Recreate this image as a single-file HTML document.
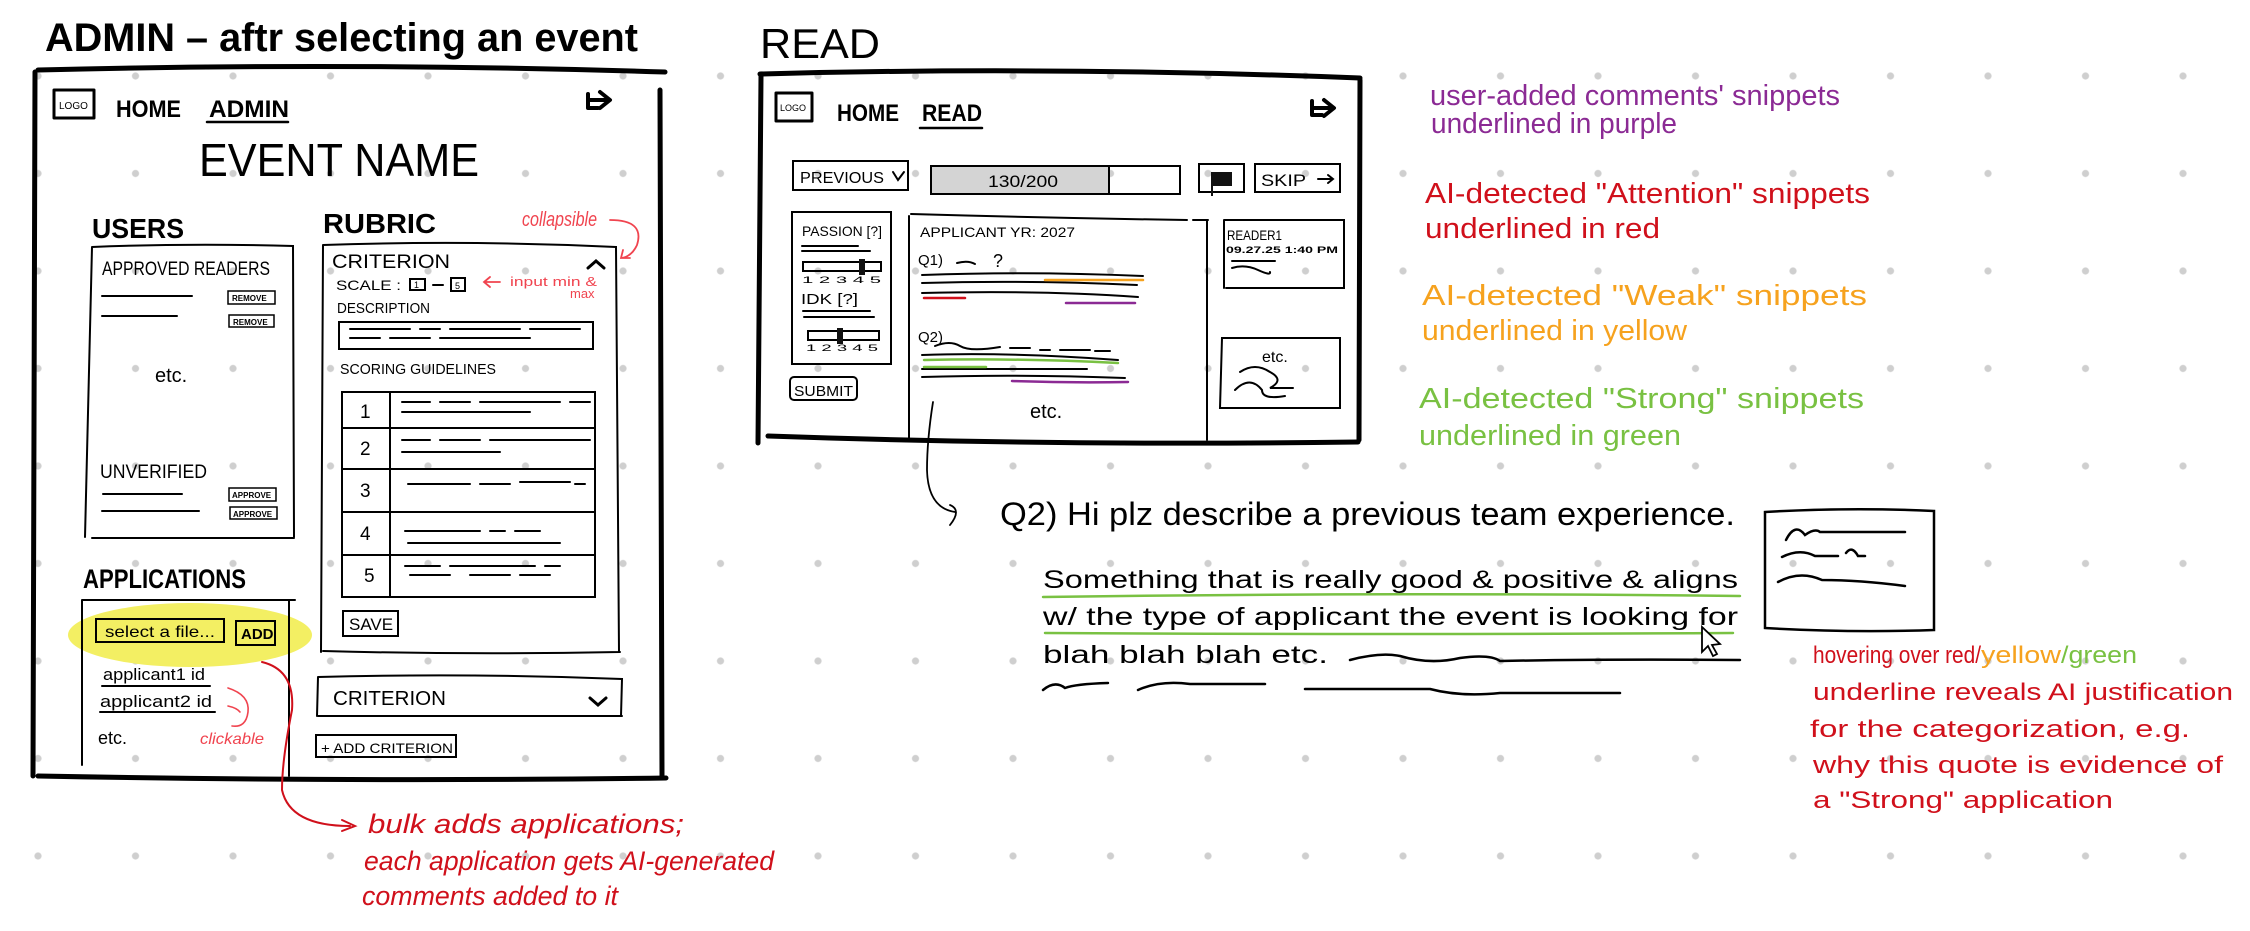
<!DOCTYPE html>
<html><head><meta charset="utf-8"><style>
html,body{margin:0;padding:0;background:#fff;}
svg{display:block;}
text{font-family:"Liberation Sans",sans-serif;}
</style></head><body>
<svg width="2250" height="931" viewBox="0 0 2250 931" xmlns="http://www.w3.org/2000/svg">
<defs>
<pattern id="dots" x="-10.75" y="27.25" width="97.5" height="97.5" patternUnits="userSpaceOnUse">
<circle cx="48.75" cy="48.75" r="3.6" fill="#cfcfcf"/>
</pattern>
</defs>
<rect width="2250" height="931" fill="#fff"/>
<rect width="2250" height="931" fill="url(#dots)"/>

<!-- ============ ADMIN ============ -->
<text x="45" y="51" font-size="40" textLength="593" lengthAdjust="spacingAndGlyphs" font-weight="bold">ADMIN – aftr selecting an event</text>
<g fill="none" stroke="#000" stroke-linecap="round" stroke-linejoin="round">
<path d="M38 70 Q350 62 665 72" stroke-width="5"/>
<path d="M35 72 L33 776" stroke-width="5"/>
<path d="M660 90 L662 776" stroke-width="5"/>
<path d="M38 776 Q350 782 666 778" stroke-width="5"/>
<rect x="54" y="90" width="40" height="28" stroke-width="3"/>
<path d="M588 100 h20 M600 92 l10 8 l-10 8 M588 94 v14 h10" stroke-width="4"/>
<path d="M207 122 H288" stroke-width="2.5"/>
</g>
<text x="59" y="109" font-size="10">LOGO</text>
<text x="116" y="117" font-size="24" font-weight="bold" textLength="65" lengthAdjust="spacingAndGlyphs">HOME</text>
<text x="209" y="117" font-size="24" font-weight="bold" textLength="80" lengthAdjust="spacingAndGlyphs">ADMIN</text>
<text x="199" y="176" font-size="46" textLength="280" lengthAdjust="spacingAndGlyphs">EVENT  NAME</text>

<!-- users -->
<text x="92" y="238" font-size="28" font-weight="bold" textLength="92" lengthAdjust="spacingAndGlyphs">USERS</text>
<g fill="none" stroke="#000" stroke-width="2" stroke-linecap="round">
<path d="M92 247 Q190 243 293 246 L294 537 M92 247 L85 537 M92 538 H294"/>
<path d="M102 296 H192 M102 316 H177 M103 494 H182 M102 511 H199"/>
<rect x="228" y="291" width="47" height="13" stroke-width="1.5"/>
<rect x="229" y="315" width="45" height="12" stroke-width="1.5"/>
<rect x="229" y="488" width="47" height="13" stroke-width="1.5"/>
<rect x="230" y="507" width="47" height="12" stroke-width="1.5"/>
</g>
<text x="102" y="275" font-size="19" textLength="168" lengthAdjust="spacingAndGlyphs">APPROVED READERS</text>
<text x="232" y="301" font-size="8" font-weight="bold">REMOVE</text>
<text x="233" y="325" font-size="8" font-weight="bold">REMOVE</text>
<text x="232" y="498" font-size="8" font-weight="bold">APPROVE</text>
<text x="233" y="517" font-size="8" font-weight="bold">APPROVE</text>
<text x="155" y="382" font-size="20">etc.</text>
<text x="100" y="478" font-size="19" textLength="107" lengthAdjust="spacingAndGlyphs">UNVERIFIED</text>

<!-- applications -->
<text x="83" y="588" font-size="27" font-weight="bold" textLength="163" lengthAdjust="spacingAndGlyphs">APPLICATIONS</text>
<ellipse cx="190" cy="635" rx="122" ry="32" fill="#f3ef63"/>
<g fill="none" stroke="#000" stroke-width="2" stroke-linecap="round">
<path d="M82 600 H295 M82 600 V765 M289 600 V776"/>
<rect x="96" y="619" width="128" height="23"/>
<rect x="236" y="621" width="39" height="24"/>
<path d="M102 686 H210 M100 712 H215"/>
</g>
<text x="105" y="637" font-size="16" textLength="110" lengthAdjust="spacingAndGlyphs">select a file...</text>
<text x="241" y="639" font-size="15" font-weight="bold">ADD</text>
<text x="103" y="680" font-size="17" textLength="102" lengthAdjust="spacingAndGlyphs">applicant1 id</text>
<text x="100" y="707" font-size="17" textLength="112" lengthAdjust="spacingAndGlyphs">applicant2 id</text>
<text x="98" y="744" font-size="18">etc.</text>
<text x="200" y="744" font-size="16" fill="#f0444f" font-style="italic" textLength="64" lengthAdjust="spacingAndGlyphs">clickable</text>
<g fill="none" stroke="#f0444f" stroke-width="1.6" stroke-linecap="round">
<path d="M228 688 Q250 695 248 712 Q246 728 232 726 M228 706 Q237 708 240 712"/>
</g>

<!-- rubric -->
<text x="323" y="233" font-size="28" font-weight="bold" textLength="113" lengthAdjust="spacingAndGlyphs">RUBRIC</text>
<text x="522" y="226" font-size="20" fill="#f0444f" font-style="italic" textLength="75" lengthAdjust="spacingAndGlyphs">collapsible</text>
<g fill="none" stroke="#f0444f" stroke-width="1.8" stroke-linecap="round">
<path d="M610 220 Q645 220 637 245 Q632 256 622 258 M623 250 L621 258 L630 258"/>
<path d="M484 282 H500 M490 277 L484 282 L490 287"/>
</g>
<text x="510" y="286" font-size="13" fill="#f0444f" textLength="87" lengthAdjust="spacingAndGlyphs">input min &amp;</text>
<text x="570" y="298" font-size="13" fill="#f0444f">max</text>
<g fill="none" stroke="#000" stroke-width="2" stroke-linecap="round">
<path d="M323 245 Q470 240 616 247 L619 652 M323 245 L321 652 M323 651 Q470 655 620 652"/>
<path d="M588 268 L596 261 L604 268" stroke-width="3"/>
<rect x="410" y="279" width="15" height="11"/>
<path d="M433 285 H443"/>
<rect x="451" y="278" width="14" height="13"/>
<rect x="339" y="322" width="254" height="27"/>
<path d="M350 329 H410 M420 329 H440 M450 329 H520 M530 329 H580 M350 338 H380 M390 338 H430 M440 338 H530"/>
<rect x="342" y="392" width="253" height="205"/>
<path d="M390 392 V597 M342 428 H595 M342 469 H595 M342 512 H595 M342 555 H595"/>
<path d="M402 402 H430 M440 402 H470 M480 402 H560 M570 402 H590 M402 412 H530 M402 440 H430 M440 440 H480 M490 440 H590 M402 452 H500 M408 484 H470 M480 484 H510 M520 482 H570 M575 484 H585 M405 531 H480 M490 531 H505 M515 531 H540 M408 543 H560 M405 566 H440 M450 566 H535 M545 566 H560 M410 575 H450 M470 575 H510 M520 575 H550"/>
<rect x="343" y="611" width="55" height="25"/>
<path d="M318 677 Q470 673 622 679 L621 716 M318 677 L317 716 M318 716 H622"/>
<path d="M590 698 L598 705 L606 698" stroke-width="3"/>
<rect x="316" y="735" width="140" height="22"/>
</g>
<text x="332" y="268" font-size="19" textLength="118" lengthAdjust="spacingAndGlyphs">CRITERION</text>
<text x="336" y="290" font-size="14" textLength="65" lengthAdjust="spacingAndGlyphs">SCALE :</text>
<text x="414" y="288" font-size="9">1</text>
<text x="455" y="289" font-size="9">5</text>
<text x="337" y="313" font-size="15" textLength="93" lengthAdjust="spacingAndGlyphs">DESCRIPTION</text>
<text x="340" y="374" font-size="15" textLength="156" lengthAdjust="spacingAndGlyphs">SCORING GUIDELINES</text>
<text x="360" y="418" font-size="19">1</text>
<text x="360" y="455" font-size="19">2</text>
<text x="360" y="497" font-size="19">3</text>
<text x="360" y="540" font-size="19">4</text>
<text x="364" y="582" font-size="19">5</text>
<text x="349" y="630" font-size="17">SAVE</text>
<text x="333" y="705" font-size="20" textLength="113" lengthAdjust="spacingAndGlyphs">CRITERION</text>
<text x="321" y="753" font-size="14" textLength="132" lengthAdjust="spacingAndGlyphs">+ ADD CRITERION</text>

<!-- bulk arrow -->
<g fill="none" stroke="#d0101b" stroke-width="2" stroke-linecap="round">
<path d="M262 662 Q295 670 292 710 Q282 760 282 790 Q290 826 350 826"/>
<path d="M342 820 L355 826 L342 831"/>
</g>
<g font-size="27" fill="#d0101b" font-style="italic">
<text x="368" y="833" textLength="316" lengthAdjust="spacingAndGlyphs">bulk adds applications;</text>
<text x="364" y="870" textLength="410" lengthAdjust="spacingAndGlyphs">each application gets AI-generated</text>
<text x="362" y="905" textLength="256" lengthAdjust="spacingAndGlyphs">comments added to it</text>
</g>

<!-- ============ READ ============ -->
<text x="760" y="58" font-size="42" textLength="120" lengthAdjust="spacingAndGlyphs">READ</text>
<g fill="none" stroke="#000" stroke-linecap="round" stroke-linejoin="round">
<path d="M760 74 Q1050 66 1360 78" stroke-width="5"/>
<path d="M761 76 L758 443" stroke-width="5"/>
<path d="M1360 80 L1359 440" stroke-width="5"/>
<path d="M768 436 Q1050 446 1358 442" stroke-width="5"/>
<rect x="776" y="93" width="36" height="28" stroke-width="3"/>
<path d="M1312 108 h20 M1324 100 l10 8 l-10 8 M1312 101 v14 h10" stroke-width="4"/>
<path d="M920 128 H982" stroke-width="2.5"/>
</g>
<text x="780" y="111" font-size="9">LOGO</text>
<text x="837" y="121" font-size="24" font-weight="bold" textLength="62" lengthAdjust="spacingAndGlyphs">HOME</text>
<text x="922" y="121" font-size="24" font-weight="bold" textLength="60" lengthAdjust="spacingAndGlyphs">READ</text>

<g fill="none" stroke="#000" stroke-width="2" stroke-linecap="round">
<rect x="793" y="161" width="115" height="29"/>
<path d="M893 172 L898 180 L904 172"/>
<rect x="931" y="166" width="249" height="28"/>
<rect x="1199" y="164" width="45" height="28"/>
<rect x="1255" y="164" width="85" height="28"/>
<path d="M1318 179 H1333 M1328 175 L1333 179 L1328 183"/>
<!-- left panel -->
<path d="M792 212 H891 V364 H792 Z"/>
<path d="M802 246 H858 M802 251 H870 M803 311 H870 M804 317 H874"/>
<rect x="803" y="262" width="78" height="9"/>
<rect x="808" y="331" width="71" height="9"/>
<rect x="790" y="377" width="67" height="23" rx="4"/>
<!-- center panel -->
<path d="M911 214 Q1050 218 1187 220 M1193 220 H1208 M909 216 V440 M1207 220 V440"/>
<path d="M922 275 Q1030 271 1143 276 M922 283 Q1030 280 1137 285 M922 293 Q1040 290 1138 297"/>
<path d="M922 355 Q1010 352 1118 360 M922 369 H1087 M922 377 Q1020 374 1125 378"/>
<path d="M935 346 Q950 340 960 346 T1000 347 M1010 348 H1030 M1040 350 H1050 M1060 350 H1090 M1095 351 H1110"/>
<path d="M957 263 Q968 260 975 264"/>
<!-- right panel -->
<path d="M1224 220 H1344 V288 H1226 M1224 220 V288"/>
<path d="M1232 261 H1275 M1232 268 Q1245 264 1258 270 T1270 272"/>
<path d="M1222 338 H1340 V408 H1220 Z"/>
<path d="M1235 390 Q1250 375 1262 390 Q1262 400 1285 396 M1240 372 Q1255 362 1270 372 Q1285 380 1270 388 H1293"/>
</g>
<rect x="931" y="166" width="178" height="28" fill="#d4d4d4" stroke="#000" stroke-width="2"/>
<rect x="859" y="259" width="6" height="16" fill="#111"/>
<rect x="837" y="328" width="6" height="16" fill="#111"/>
<rect x="1212" y="172" width="20" height="14" fill="#111"/>
<path d="M1212 172 V196" stroke="#111" stroke-width="2"/>
<text x="800" y="183" font-size="16" textLength="84" lengthAdjust="spacingAndGlyphs">PREVIOUS</text>
<text x="988" y="187" font-size="17" textLength="70" lengthAdjust="spacingAndGlyphs">130/200</text>
<text x="1261" y="186" font-size="17" textLength="45" lengthAdjust="spacingAndGlyphs">SKIP</text>
<text x="802" y="236" font-size="14" textLength="80" lengthAdjust="spacingAndGlyphs">PASSION [?]</text>
<text x="802" y="283" font-size="9" textLength="79" lengthAdjust="spacingAndGlyphs">1  2  3  4  5</text>
<text x="801" y="304" font-size="15" textLength="57" lengthAdjust="spacingAndGlyphs">IDK [?]</text>
<text x="806" y="351" font-size="9" textLength="72" lengthAdjust="spacingAndGlyphs">1  2  3  4  5</text>
<text x="794" y="396" font-size="15" textLength="59" lengthAdjust="spacingAndGlyphs">SUBMIT</text>
<text x="920" y="237" font-size="14" textLength="155" lengthAdjust="spacingAndGlyphs">APPLICANT YR: 2027</text>
<text x="918" y="265" font-size="15">Q1)</text>
<text x="993" y="267" font-size="18">?</text>
<text x="918" y="342" font-size="15">Q2)</text>
<text x="1030" y="418" font-size="20">etc.</text>
<text x="1227" y="240" font-size="14" textLength="55" lengthAdjust="spacingAndGlyphs">READER1</text>
<text x="1226" y="253" font-size="9" font-weight="bold" textLength="112" lengthAdjust="spacingAndGlyphs">09.27.25  1:40 PM</text>
<text x="1262" y="362" font-size="16">etc.</text>
<g fill="none" stroke-width="2.5" stroke-linecap="round">
<path d="M1045 280 H1143" stroke="#f6a21e"/>
<path d="M924 298 H965" stroke="#d0101b"/>
<path d="M1066 303 H1135" stroke="#8b2a94"/>
<path d="M924 360 Q1020 358 1118 363" stroke="#79c142"/>
<path d="M924 367 H986" stroke="#79c142"/>
<path d="M1012 381 Q1070 383 1128 382" stroke="#8b2a94"/>
</g>

<!-- arrow to Q2 detail -->
<g fill="none" stroke="#000" stroke-width="1.8" stroke-linecap="round">
<path d="M933 402 Q927 440 927 470 Q928 508 955 512 M950 505 Q962 510 950 525"/>
</g>
<text x="1000" y="525" font-size="32" textLength="735" lengthAdjust="spacingAndGlyphs">Q2) Hi plz describe a previous team experience.</text>
<g font-size="25">
<text x="1043" y="588" textLength="695" lengthAdjust="spacingAndGlyphs">Something that is really good &amp; positive &amp; aligns</text>
<text x="1043" y="625" textLength="695" lengthAdjust="spacingAndGlyphs">w/ the type of applicant the event is looking for</text>
<text x="1043" y="663" textLength="285" lengthAdjust="spacingAndGlyphs">blah blah blah etc.</text>
</g>
<g fill="none" stroke-width="2.5" stroke-linecap="round">
<path d="M1043 597 Q1390 592 1740 596" stroke="#79c142"/>
<path d="M1045 633 Q1390 635 1733 633" stroke="#79c142"/>
<path d="M1350 660 Q1380 652 1400 656 Q1430 665 1460 658 Q1490 654 1500 661 Q1600 659 1740 660" stroke="#000"/>
<path d="M1043 690 Q1055 680 1065 688 Q1075 684 1108 683 M1138 690 Q1160 680 1190 684 H1265 M1305 689 H1430 Q1460 697 1500 693 H1620" stroke="#000"/>
</g>
<path d="M1702 627 L1702 652 L1708 646 L1713 656 L1717 654 L1712 645 L1720 644 Z" fill="#fff" stroke="#000" stroke-width="1.8"/>
<g fill="none" stroke="#000" stroke-width="2.5" stroke-linecap="round">
<path d="M1765 512 Q1850 507 1934 511 V630 Q1850 633 1765 628 Z"/>
<path d="M1786 540 Q1795 522 1805 535 Q1815 528 1820 532 H1905 M1782 557 Q1800 548 1815 556 H1838 M1846 553 Q1852 545 1858 556 H1865 M1778 582 Q1800 570 1822 580 Q1860 580 1905 586"/>
</g>
<g font-size="24" fill="#d0101b">
<text x="1813" y="663" textLength="168" lengthAdjust="spacingAndGlyphs">hovering over red/</text>
<text x="1981" y="663" fill="#f6a21e" textLength="80" lengthAdjust="spacingAndGlyphs">yellow</text>
<text x="2061" y="663" fill="#79c142" textLength="76" lengthAdjust="spacingAndGlyphs">/green</text>
<text x="1813" y="700" textLength="420" lengthAdjust="spacingAndGlyphs">underline reveals AI justification</text>
<text x="1810" y="737" textLength="380" lengthAdjust="spacingAndGlyphs">for the categorization, e.g.</text>
<text x="1813" y="773" textLength="410" lengthAdjust="spacingAndGlyphs">why this quote is evidence of</text>
<text x="1813" y="808" textLength="300" lengthAdjust="spacingAndGlyphs">a "Strong" application</text>
</g>

<!-- legend -->
<g font-size="29">
<text x="1430" y="105" fill="#8b2a94" textLength="410" lengthAdjust="spacingAndGlyphs">user-added comments' snippets</text>
<text x="1431" y="133" fill="#8b2a94" textLength="246" lengthAdjust="spacingAndGlyphs">underlined in purple</text>
<text x="1425" y="203" fill="#d0101b" textLength="445" lengthAdjust="spacingAndGlyphs">AI-detected "Attention" snippets</text>
<text x="1425" y="238" fill="#d0101b" textLength="235" lengthAdjust="spacingAndGlyphs">underlined in red</text>
<text x="1422" y="305" fill="#f6a21e" textLength="445" lengthAdjust="spacingAndGlyphs">AI-detected "Weak" snippets</text>
<text x="1422" y="340" fill="#f6a21e" textLength="265" lengthAdjust="spacingAndGlyphs">underlined in yellow</text>
<text x="1419" y="408" fill="#79c142" textLength="445" lengthAdjust="spacingAndGlyphs">AI-detected "Strong" snippets</text>
<text x="1419" y="445" fill="#79c142" textLength="262" lengthAdjust="spacingAndGlyphs">underlined in green</text>
</g>
</svg>
</body></html>
